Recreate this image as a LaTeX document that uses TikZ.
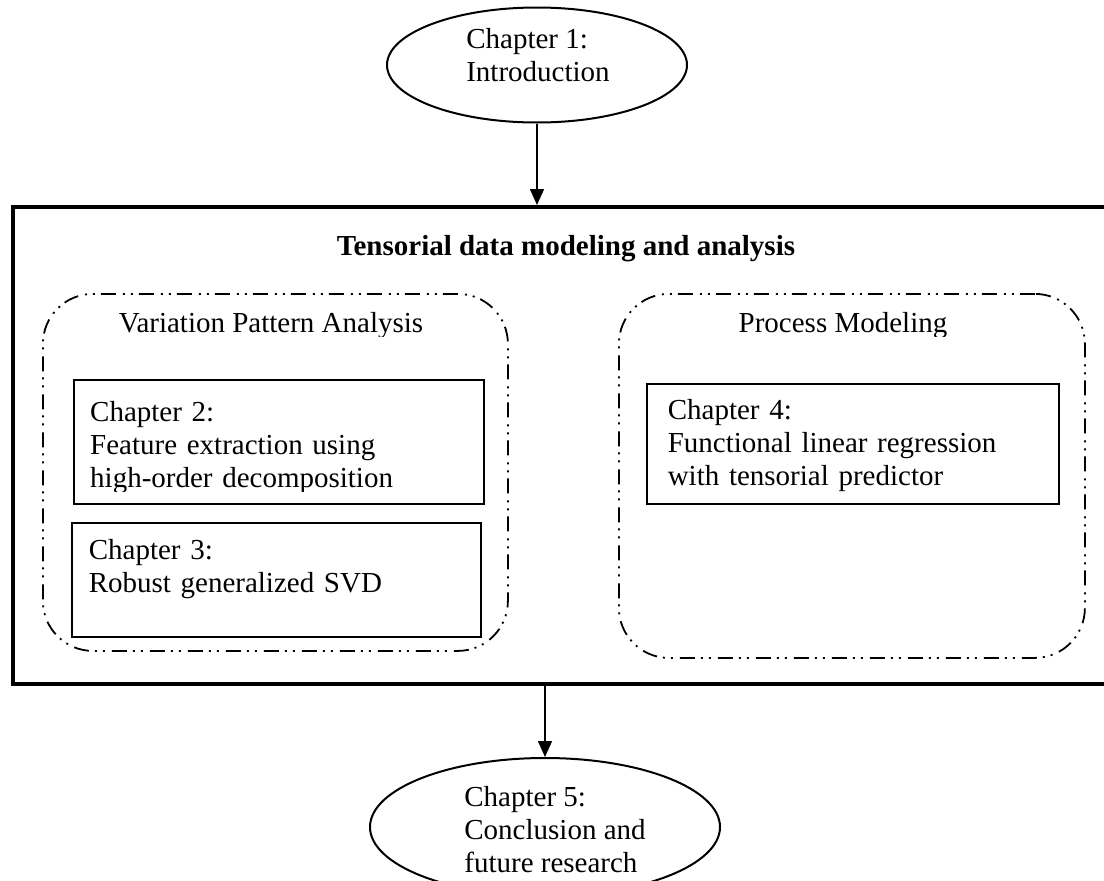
\documentclass[tikz,border=0pt]{standalone}
\usepackage{fontspec}
\setmainfont{Liberation Serif}
\usetikzlibrary{positioning, arrows.meta, shapes.geometric}

\tikzset{
  chapell/.style={draw, ellipse, line width=2pt, inner sep=0pt},
  chapbox/.style={draw, line width=1.6pt, anchor=north west, align=left,
                  inner xsep=17pt, inner ysep=0pt},
  groupbox/.style={draw, line width=1.8pt, rounded corners=50pt, anchor=north west,
                   inner sep=0pt,
                   dash pattern=on 15pt off 6pt on 2pt off 6pt on 2pt off 7pt},
  flow/.style={line width=1.6pt, -{Triangle[length=16pt, width=14pt]}}
}

\begin{document}
\begin{tikzpicture}[x=1pt, y=-1pt, font=\fontsize{29pt}{33pt}\selectfont]
  \useasboundingbox (0,0) rectangle (1104,881);

  % intro
  \node[chapell, minimum width=300pt, minimum height=115pt] (ch1) at (537,65) {};
  \node[align=left, inner sep=0pt] (ch1txt) at (538,55) {Chapter 1:\\Introduction};

  % main block
  \node[draw, line width=4pt, anchor=north west, inner sep=0pt,
        minimum width=1101pt, minimum height=477pt] (frame) at (11,205) {};
  \node (title) at (566,249) {\bfseries Tensorial data modeling and analysis};

  % variation pattern analysis
  \node[groupbox, minimum width=465pt, minimum height=357pt] (vpa) at (42,293) {};
  \begin{scope}
    \clip (vpa.north west) rectangle ([yshift=-43pt]vpa.north east);
    \node (vpatitle) at (271,326) {Variation Pattern Analysis};
  \end{scope}
  \node[chapbox, minimum width=410pt, minimum height=124pt] (ch2) at (73,379) {};
  \begin{scope}
    \clip (ch2.north west) rectangle ([yshift=13pt]ch2.south east);
    \node[anchor=north west, align=left, inner xsep=17pt, inner ysep=0pt,
          text width=376pt, text height=42pt, text depth=82pt] (ch2txt) at (ch2.north west)
      {Chapter 2:\\Feature extraction using\\high-order decomposition};
  \end{scope}
  \node[chapbox, text width=375pt, text height=37pt, text depth=77pt] (ch3) at (71,522)
    {Chapter 3:\\Robust generalized SVD};

  % process modeling
  \node[groupbox, minimum width=466pt, minimum height=364pt] (pm) at (618,293) {};
  \begin{scope}
    \clip (pm.north west) rectangle ([yshift=-43pt]pm.north east);
    \node (pmtitle) at (843,326) {Process Modeling};
  \end{scope}
  \node[chapbox, inner xsep=21pt, text width=370pt, text height=36pt, text depth=84pt] (ch4) at (646,383)
    {Chapter 4:\\Functional linear regression\\with tensorial predictor};

  % conclusion
  \node[chapell, minimum width=350pt, minimum height=138pt] (ch5) at (545,827) {};
  \node[align=left, inner sep=0pt] (ch5txt) at (555,830) {Chapter 5:\\Conclusion and\\future research};

  \draw[flow] (ch1.south) -- (ch1.south |- frame.north);
  \draw[flow] (frame.south -| ch5.north) -- (ch5.north);
\end{tikzpicture}
\end{document}
